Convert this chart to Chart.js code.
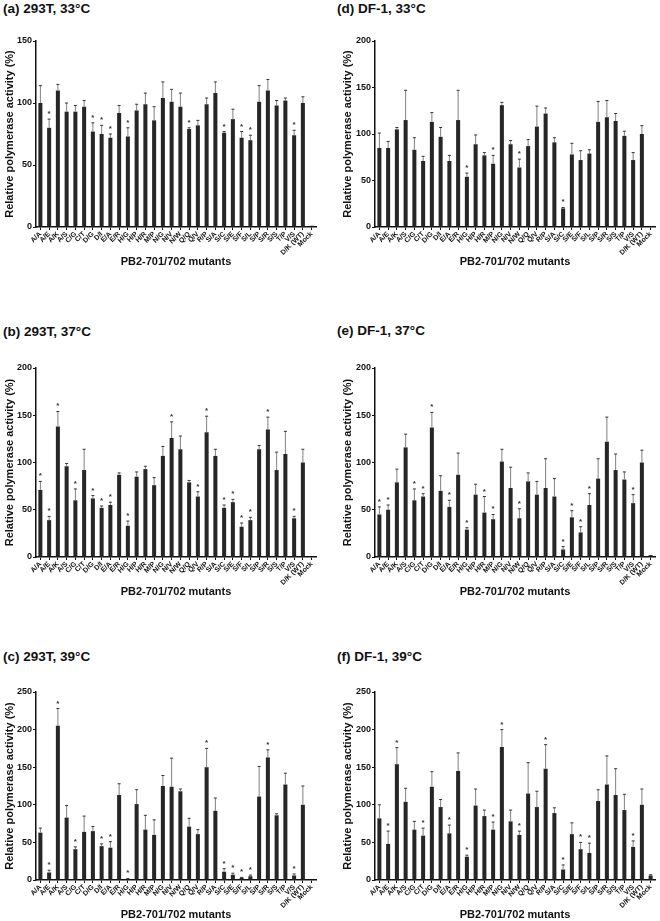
<!DOCTYPE html>
<html>
<head>
<meta charset="utf-8">
<script src="https://cdn.jsdelivr.net/npm/chart.js@4.4.0/dist/chart.umd.min.js"></script>
<style>
body { margin: 0; background: #fff; width: 660px; height: 921px; position: relative; overflow: hidden; font-family: "Liberation Sans", Arial, sans-serif; }
.title { position: absolute; font-weight: bold; font-size: 13.5px; color: #111; white-space: nowrap; line-height: 18px; }
canvas { position: absolute; }
</style>
</head>
<body>
<div class="title" style="left:3px; top:0px;">(a) 293T, 33°C</div>
<div class="title" style="left:3px; top:323px;">(b) 293T, 37°C</div>
<div class="title" style="left:3px; top:648px;">(c) 293T, 39°C</div>
<div class="title" style="left:337px; top:0px;">(d) DF-1, 33°C</div>
<div class="title" style="left:337px; top:322px;">(e) DF-1, 37°C</div>
<div class="title" style="left:337px; top:648px;">(f) DF-1, 39°C</div>

<canvas id="chartA" width="330" height="242" style="left:0px; top:31px;"></canvas>
<canvas id="chartB" width="330" height="245" style="left:0px; top:358px;"></canvas>
<canvas id="chartC" width="330" height="244" style="left:0px; top:682px;"></canvas>
<canvas id="chartD" width="330" height="242" style="left:330px; top:31px;"></canvas>
<canvas id="chartE" width="330" height="245" style="left:330px; top:358px;"></canvas>
<canvas id="chartF" width="330" height="244" style="left:330px; top:682px;"></canvas>

<script>
// categories (PB2-701/702 mutants)
const mutants = ['A/A','A/E','A/K','A/S','C/G','C/T','D/G','D/I','E/A','E/R','H/G','H/P','H/R','M/P','N/G','N/V',
                 'N/W','Q/Q','Q/V','R/P','S/A','S/C','S/E','S/F','S/L','S/P','S/R','S/S','T/P','V/S','D/K (WT)','Mock']

// (a) 293T, 33°C
const aMean = [100,80,110,93,93,97,77,75,72,92,73,94,99,86,104,101,97,79,82,99,108,76,87,72,70,101,110,98,102,74,100,1]
const aSd   = [14,7,5,7,5,5,7,7,3,6,7,5,9,11,13,10,11,1,4,5,9,1,8,5,4,13,9,4,2,4,5,0]
const aStars = ['A/E','D/G','D/I','E/A','H/G','Q/Q','S/C','S/F','S/L','V/S']

// (b) 293T, 37°C
const bMean = [71,39,138,96,60,92,62,52,55,87,33,85,93,76,107,126,114,79,64,132,107,52,58,32,39,114,135,92,109,41,100,0]
const bSd   = [9,4,16,3,12,22,3,2,3,2,5,5,3,8,10,17,14,2,5,17,7,3,3,4,3,4,13,19,24,2,14,0]
const bStars = ['A/A','A/E','A/K','C/G','D/G','D/I','E/A','H/G','N/V','Q/V','R/P','S/C','S/E','S/F','S/L','S/R','V/S']

// (c) 293T, 39°C
const cMean = [63,10,205,83,41,64,65,45,43,113,1,101,67,60,125,124,118,71,61,150,92,11,7,3,5,111,163,86,127,6,100,0]
const cSd   = [6,3,23,16,3,21,6,3,8,15,1,19,19,20,14,38,3,11,6,25,17,4,2,0.5,1.5,40,10,2,15,2,25,0]
const cStars = ['A/E','A/K','C/G','D/I','E/A','H/G','R/P','S/C','S/E','S/F','S/L','S/R','V/S']

// (d) DF-1, 33°C
const dMean = [85,85,105,115,83,71,113,97,71,115,54,89,77,68,131,89,64,87,108,122,91,20,78,72,79,113,118,114,98,72,100,0]
const dSd   = [16,7,2,32,13,5,10,10,6,32,4,10,3,9,3,4,9,7,22,6,5,1,12,10,4,22,18,8,5,8,9,0]
const dStars = ['H/G','M/P','N/W','S/C']

// (e) DF-1, 37°C
const eMean = [45,50,79,116,60,64,137,70,53,87,29,66,47,40,101,73,41,80,66,73,64,8,42,26,55,83,122,92,82,57,100,2]
const eSd   = [8,5,14,14,12,3,16,16,7,23,2,11,17,5,13,22,10,9,14,31,19,3,7,6,12,21,26,17,8,9,13,0]
const eStars = ['A/A','A/E','C/G','C/T','D/G','E/A','H/G','H/R','M/P','N/W','S/C','S/E','S/F','S/L','V/S']

// (f) DF-1, 39°C
const fMean = [82,48,154,104,67,59,124,97,62,145,31,99,85,67,177,78,60,115,97,148,89,14,61,41,36,105,127,113,93,44,100,6]
const fSd   = [18,17,22,18,11,10,20,10,11,24,2,22,8,10,23,15,5,41,21,32,7,6,15,9,13,15,38,35,21,8,21,1]
const fStars = ['A/E','A/K','C/T','E/A','H/G','M/P','N/G','N/W','R/P','S/C','S/F','S/L','V/S']

const FONT = '"Liberation Sans", Arial, sans-serif'

// draws the upper error bar and the significance star over each bar
const errorBars = {
    id: 'errorBars',
    afterDatasetsDraw(chart, args, opts) {
        const ctx = chart.ctx
        const y = chart.scales.y
        const vals = chart.data.datasets[0].data
        ctx.save()
        chart.getDatasetMeta(0).data.forEach(function(bar, i) {
            const top = y.getPixelForValue(vals[i] + opts.sd[i])
            if (opts.sd[i] > 0) {
                ctx.strokeStyle = '#808080'
                ctx.lineWidth = 1
                ctx.beginPath()
                ctx.moveTo(bar.x, y.getPixelForValue(vals[i]))
                ctx.lineTo(bar.x, top)
                ctx.stroke()
                ctx.strokeStyle = '#333'
                ctx.beginPath()
                ctx.moveTo(bar.x - 1.5, top)
                ctx.lineTo(bar.x + 1.5, top)
                ctx.stroke()
            }
            if (opts.stars.indexOf(chart.data.labels[i]) >= 0) {
                ctx.fillStyle = '#333'
                ctx.font = 'bold 8px ' + FONT
                ctx.textAlign = 'center'
                ctx.textBaseline = 'alphabetic'
                ctx.fillText('*', bar.x, top - 3)
            }
        })
        ctx.restore()
    }
}

function makePanel(id, mean, sd, stars, yMax, right) {
    return new Chart(document.getElementById(id), {
        type: 'bar',
        data: {
            labels: mutants,
            datasets: [{
                data: mean,
                backgroundColor: '#262626',
                barPercentage: 0.46,
                categoryPercentage: 1
            }]
        },
        options: {
            responsive: false,
            animation: false,
            devicePixelRatio: 1,
            layout: { padding: { top: 10, bottom: 0, left: right ? 8 : 0, right: right ? 5 : 14 } },
            plugins: {
                legend: { display: false },
                tooltip: { enabled: false },
                errorBars: { sd: sd, stars: stars }
            },
            scales: {
                x: {
                    offset: true,
                    border: { display: true, color: '#111', width: 1.5 },
                    grid: { display: true, offset: false, drawOnChartArea: false, tickLength: 3, color: '#111' },
                    ticks: {
                        autoSkip: false, maxRotation: 45, minRotation: 45, padding: 0,
                        color: '#111', font: { family: FONT, size: 7, weight: 'bold' }
                    },
                    title: {
                        display: true, text: 'PB2-701/702 mutants', color: '#111',
                        font: { family: FONT, size: 11, weight: 'bold' }, padding: { top: 2, bottom: 4 }
                    },
                    afterFit: function(s) { s.height = 46 }
                },
                y: {
                    min: 0, max: yMax,
                    border: { display: true, color: '#111', width: 1.5 },
                    grid: { display: true, drawOnChartArea: false, tickLength: 3, color: '#111' },
                    ticks: { stepSize: 50, padding: 1, color: '#111', font: { family: FONT, size: 9, weight: 'bold' } },
                    title: {
                        display: true, text: 'Relative polymerase activity (%)', color: '#111',
                        font: { family: FONT, size: 11, weight: 'bold' }, padding: { top: 3, bottom: 2 }
                    },
                    afterFit: function(s) { s.width = right ? 37 : 36 }
                }
            }
        },
        plugins: [errorBars]
    })
}

makePanel('chartA', aMean, aSd, aStars, 150, false)
makePanel('chartB', bMean, bSd, bStars, 200, false)
makePanel('chartC', cMean, cSd, cStars, 250, false)
makePanel('chartD', dMean, dSd, dStars, 200, true)
makePanel('chartE', eMean, eSd, eStars, 200, true)
makePanel('chartF', fMean, fSd, fStars, 250, true)
</script>
</body>
</html>
